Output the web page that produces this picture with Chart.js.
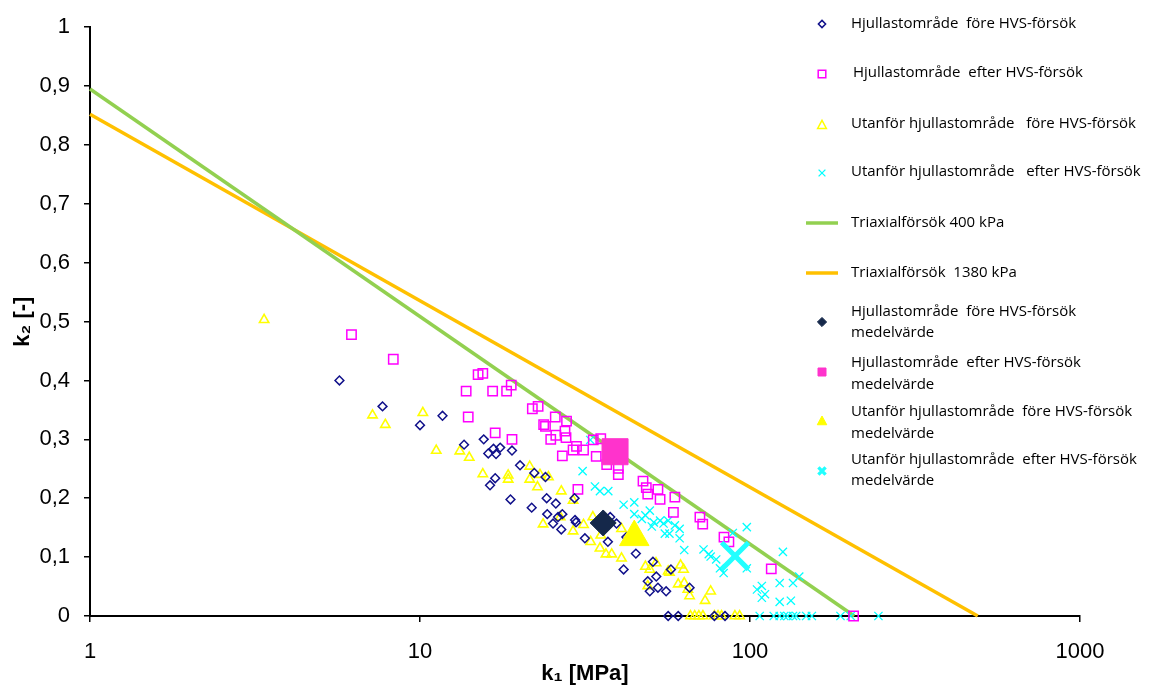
<!DOCTYPE html>
<html><head><meta charset="utf-8">
<script src="https://cdn.jsdelivr.net/npm/chart.js@4.4.0/dist/chart.umd.min.js"></script>
<style>html,body{margin:0;padding:0;background:#fff;}#wrap{width:1150px;height:685px;}</style>
</head><body><div id="wrap"><canvas id="c" width="1150" height="685"></canvas></div>
<script>
// ---- data (k1 [MPa], k2 [-]) ----
const xTicks = [1, 10, 100, 1000];
const seriesLabels = [
  ["Hjullastområde  före HVS-försök"],
  ["Hjullastområde  efter HVS-försök"],
  ["Utanför hjullastområde   före HVS-försök"],
  ["Utanför hjullastområde   efter HVS-försök"],
  ["Triaxialförsök 400 kPa"],
  ["Triaxialförsök  1380 kPa"],
  ["Hjullastområde  före HVS-försök", "medelvärde"],
  ["Hjullastområde  efter HVS-försök", "medelvärde"],
  ["Utanför hjullastområde  före HVS-försök", "medelvärde"],
  ["Utanför hjullastområde  efter HVS-försök", "medelvärde"]
];
const hjulFore = [
 [5.7,0.40],[7.7,0.356],[10.0,0.324],[11.7,0.34],[13.6,0.291],[15.6,0.30],[16.1,0.276],[16.7,0.284],
 [17.0,0.275],[17.5,0.286],[19.0,0.281],[16.9,0.234],[16.3,0.222],[18.8,0.198],[20.1,0.256],[21.8,0.184],
 [22.2,0.243],[24.0,0.236],[24.2,0.20],[25.8,0.191],[24.3,0.173],[25.3,0.157],[26.2,0.168],[27.0,0.173],
 [26.8,0.147],[29.4,0.20],[29.5,0.163],[29.7,0.159],[31.6,0.132],[37.1,0.126],[37.7,0.168],[39.4,0.157],
 [41.4,0.079],[42.2,0.134],[45.1,0.106],[49.0,0.059],[49.7,0.042],[50.8,0.092],[52.0,0.067],[52.6,0.048],
 [55.7,0.042],[57.6,0.079],[65.6,0.048],[56.5,0],[60.6,0],[78,0],[84,0]
];
const hjulEfter = [
 [6.2,0.478],[8.3,0.436],[15.0,0.41],[15.5,0.412],[13.8,0.382],[16.6,0.382],[18.3,0.382],[18.9,0.392],
 [14.0,0.338],[16.9,0.311],[19.0,0.30],[21.9,0.352],[22.8,0.356],[23.7,0.325],[24.0,0.322],[25.7,0.338],
 [27.8,0.331],[24.9,0.30],[27.5,0.314],[27.7,0.303],[25.8,0.307],[27.0,0.272],[29.1,0.282],[29.8,0.288],
 [31.3,0.282],[33.5,0.299],[35.3,0.301],[34.2,0.271],[36.8,0.257],[39.9,0.251],[39.9,0.24],[30.1,0.215],
 [47.4,0.229],[48.5,0.218],[49.0,0.207],[52.6,0.215],[53.4,0.198],[59.2,0.202],[58.6,0.176],[70.5,0.168],
 [71.9,0.156],[83.4,0.134],[86.3,0.126],[116,0.08],[206,0]
];
const utanFore = [
 [3.37,0.503],[7.18,0.341],[7.85,0.325],[10.2,0.345],[11.2,0.281],[13.2,0.28],[14.1,0.269],[15.5,0.241],
 [18.5,0.239],[18.5,0.232],[21.5,0.254],[21.5,0.232],[22.7,0.219],[23.1,0.24],[24.5,0.236],[26.8,0.212],
 [29.1,0.196],[23.6,0.156],[26.6,0.168],[29.1,0.144],[31.3,0.155],[32.9,0.126],[33.4,0.168],[35.1,0.115],
 [35.3,0.137],[36.6,0.105],[38.1,0.105],[40.8,0.098],[40.8,0.148],[48.2,0.084],[49.7,0.079],[51.9,0.09],
 [49.0,0.051],[56.5,0.076],[57.0,0.074],[61.6,0.086],[62.9,0.079],[60.6,0.054],[63.2,0.056],[64.8,0.045],
 [65.6,0.034],[76.0,0.042],[73.1,0.026],[66,0],[68,0],[70,0],[72,0],[78,0],[80,0],[82,0],[90,0],[93,0]
];
const utanEfter = [
 [32.8,0.299],[31.1,0.246],[33.9,0.22],[35.1,0.212],[37.2,0.212],[41.4,0.189],[44.6,0.193],[44.6,0.173],
 [47.0,0.165],[48.2,0.171],[49.7,0.179],[51.1,0.159],[50.4,0.152],[53.4,0.162],[54.7,0.157],[56.5,0.162],
 [55.2,0.14],[57.0,0.14],[59.2,0.154],[61.2,0.148],[61.2,0.132],[63.2,0.112],[72.3,0.113],[75.0,0.105],
 [76.0,0.101],[79.0,0.096],[81.1,0.081],[83.2,0.073],[88.7,0.141],[97.8,0.151],[97.8,0.081],[105,0.045],
 [108.6,0.051],[111,0.037],[108.6,0.031],[123,0.056],[125.8,0.109],[123,0.024],[133,0.026],[135,0.056],
 [141,0.067],[107,0],[118,0],[123,0],[127,0],[130,0],[135,0],[138,0],[148,0],[154,0],[188,0],[202,0],[245,0]
];
const triax400 = [[1,0.895],[207,0]];
const triax1380 = [[1,0.852],[490,0]];
const meanHjulFore = [[35.9,0.158]];
const meanHjulEfter = [[39.0,0.279]];
const meanUtanFore = [[44.6,0.134]];
const meanUtanEfter = [[90.1,0.102]];

// ---- styles ----
const C = {
  navy:'#10108a', mag:'#ff00ff', yel:'#ffff00', cyan:'#00ffff',
  green:'#92d050', orange:'#ffc000', mNavy:'#15284a', mMag:'#ff33cc', mYel:'#ffff00', mCyan:'#22ffff'
};
const pts = a => a.map(p => ({x:p[0], y:p[1]}));
const open = (lab, data, style, r, col, bw) => ({
  label: lab, data: pts(data), showLine:false, order:5,
  pointStyle: style, pointRadius: r, pointHoverRadius: r,
  pointBorderColor: col, pointBackgroundColor: 'rgba(0,0,0,0)', pointBorderWidth: bw, clip:false
});
const filled = (lab, data, style, r, col, bw) => ({
  label: lab, data: pts(data), showLine:false, order:1,
  pointStyle: style, pointRadius: r, pointHoverRadius: r,
  pointBorderColor: col, pointBackgroundColor: col, pointBorderWidth: bw, clip:false
});
const line = (lab, data, col, w) => ({
  type:'line', label: lab, data: pts(data), showLine:true, order:10,
  borderColor: col, borderWidth: w, pointRadius:0, fill:false, clip:false
});

const datasets = [
  open(seriesLabels[0].join(' '), hjulFore, 'rectRot', 4.4, C.navy, 1.5),
  open(seriesLabels[1].join(' '), hjulEfter, 'rect', 6.6, C.mag, 1.5),
  open(seriesLabels[2].join(' '), utanFore, 'triangle', 5.4, C.yel, 1.6),
  open(seriesLabels[3].join(' '), utanEfter, 'crossRot', 5.8, C.cyan, 1.3),
  line(seriesLabels[4].join(' '), triax400, C.green, 3.5),
  line(seriesLabels[5].join(' '), triax1380, C.orange, 3.5),
  filled(seriesLabels[6].join(' '), meanHjulFore, 'rectRot', 13, C.mNavy, 1),
  filled(seriesLabels[7].join(' '), meanHjulEfter, 'rect', 18.4, C.mMag, 1),
  filled(seriesLabels[8].join(' '), meanUtanFore, 'triangle', 17, C.mYel, 1),
  filled(seriesLabels[9].join(' '), meanUtanEfter, 'crossRot', 19, C.mCyan, 5)
];

// ---- legend plugin ----
function marker(ctx, type, x, y, r, col, fill, bw) {
  ctx.save();
  ctx.strokeStyle = col; ctx.fillStyle = col; ctx.lineWidth = bw;
  ctx.beginPath();
  if (type === 'rectRot') {
    ctx.moveTo(x, y - r); ctx.lineTo(x + r, y); ctx.lineTo(x, y + r); ctx.lineTo(x - r, y); ctx.closePath();
  } else if (type === 'rect') {
    ctx.rect(x - r, y - r, 2 * r, 2 * r);
  } else if (type === 'triangle') {
    ctx.moveTo(x, y - r); ctx.lineTo(x + r * 0.95, y + r * 0.75); ctx.lineTo(x - r * 0.95, y + r * 0.75); ctx.closePath();
  } else if (type === 'crossRot') {
    ctx.moveTo(x - r, y - r); ctx.lineTo(x + r, y + r); ctx.moveTo(x + r, y - r); ctx.lineTo(x - r, y + r);
    ctx.stroke(); ctx.restore(); return;
  } else if (type === 'line') {
    ctx.moveTo(x - 16, y); ctx.lineTo(x + 16, y); ctx.stroke(); ctx.restore(); return;
  }
  if (fill) ctx.fill();
  ctx.stroke();
  ctx.restore();
}
const legendRows = [
  {t:'rectRot', r:3.6, col:C.navy, fill:false, bw:1.5, my:24, ty:[24]},
  {t:'rect', r:3.8, col:C.mag, fill:false, bw:1.5, my:74, ty:[73]},
  {t:'triangle', r:4.6, col:C.yel, fill:false, bw:1.5, my:125, ty:[124]},
  {t:'crossRot', r:3.4, col:C.cyan, fill:false, bw:1.3, my:173, ty:[172]},
  {t:'line', r:0, col:C.green, fill:false, bw:3.5, my:223, ty:[223]},
  {t:'line', r:0, col:C.orange, fill:false, bw:3.5, my:273, ty:[273]},
  {t:'rectRot', r:4.6, col:C.mNavy, fill:true, bw:1, my:322, ty:[312, 333]},
  {t:'rect', r:4, col:C.mMag, fill:true, bw:1, my:372, ty:[363, 385]},
  {t:'triangle', r:5, col:C.mYel, fill:true, bw:1, my:421, ty:[412, 434]},
  {t:'crossRot', r:3.6, col:C.mCyan, fill:false, bw:3.4, my:471, ty:[460, 481]}
];
const legendPlugin = {
  id:'customLegend',
  afterDraw(chart) {
    const ctx = chart.ctx;
    ctx.save();
    ctx.font = '15px "Open Sans"';
    ctx.fillStyle = '#000';
    ctx.textBaseline = 'middle';
    ctx.textAlign = 'left';
    legendRows.forEach((row, i) => {
      marker(ctx, row.t, 822, row.my, row.r, row.col, row.fill, row.bw);
      const tx = i === 1 ? 853 : 851;
      seriesLabels[i].forEach((s, j) => ctx.fillText(s, tx, row.ty[j]));
    });
    ctx.restore();
  }
};

const fmtY = v => {
  const r = Math.round(v * 10) / 10;
  if (r === 0) return '0';
  if (r === 1) return '1';
  return r.toFixed(1).replace('.', ',');
};
const tickFont = {family:'"Liberation Sans", Arial, sans-serif', size:22};
const titleFont = {family:'"Liberation Sans", Arial, sans-serif', size:22, weight:'bold'};

new Chart(document.getElementById('c'), {
  type:'scatter',
  data:{datasets},
  plugins:[legendPlugin],
  options:{
    responsive:false, animation:false, devicePixelRatio:1,
    layout:{padding:{left:0, top:19, right:70, bottom:0}},
    plugins:{legend:{display:false}, tooltip:{enabled:false}},
    scales:{
      x:{
        type:'logarithmic', min:1, max:1000,
        afterBuildTicks: s => { s.ticks = xTicks.map(v => ({value:v})); },
        afterFit: s => { s.height = 69; },
        ticks:{callback: v => String(v), font:tickFont, color:'#000', padding:17, maxRotation:0, autoSkip:false},
        grid:{display:true, drawOnChartArea:false, drawTicks:true, tickLength:6, color:'#000', lineWidth:1.5},
        border:{display:true, color:'#000', width:2},
        title:{display:true, text:'k₁ [MPa]', font:titleFont, color:'#000', padding:{top:0, bottom:-2}}
      },
      y:{
        type:'linear', min:0, max:1,
        afterFit: s => { s.width = 90; },
        ticks:{stepSize:0.1, callback: fmtY, font:tickFont, color:'#000', padding:14},
        grid:{display:true, drawOnChartArea:false, drawTicks:true, tickLength:6, color:'#000', lineWidth:1.5},
        border:{display:true, color:'#000', width:2},
        title:{display:true, text:'k₂ [-]', font:titleFont, color:'#000', padding:{top:10, bottom:0}}
      }
    }
  }
});
</script>
</body></html>
